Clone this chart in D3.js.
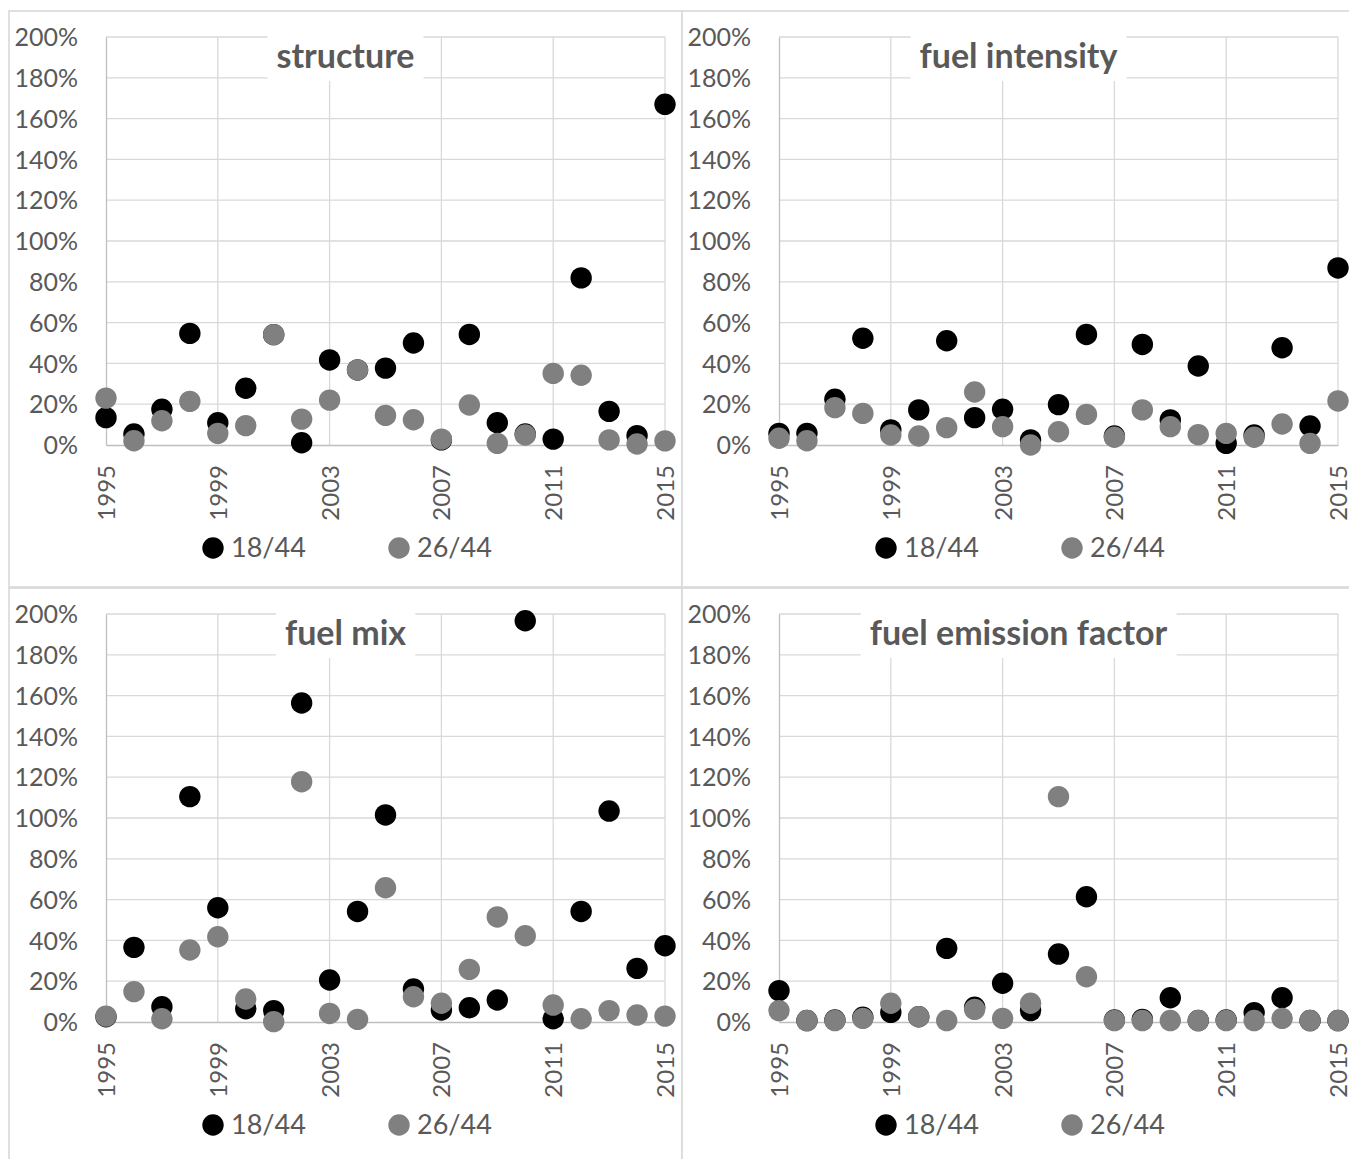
<!DOCTYPE html>
<html><head><meta charset="utf-8">
<script src="https://cdn.jsdelivr.net/npm/d3@7"></script>
<style>
body{margin:0;background:#fff;}
svg{display:block;}
text{font-family:Lato,"Open Sans",sans-serif;fill:#595959;}
</style>
</head><body>
<svg id="chart" width="1349" height="1159"></svg>
<script>
const years = [1995,1996,1997,1998,1999,2000,2001,2002,2003,2004,2005,2006,2007,2008,2009,2010,2011,2012,2013,2014,2015];
const xTickYears = [1995,1999,2003,2007,2011,2015];
const yTicks = [0,20,40,60,80,100,120,140,160,180,200];
const seriesNames = ["18/44","26/44"];
const seriesColors = ["#000000","#808080"];
const panelTitles = ["structure","fuel intensity","fuel mix","fuel emission factor"];

const structure18 = [13.4,5.4,17.5,54.7,10.9,27.8,54.1,1.1,41.7,36.8,37.7,50.0,2.5,54.2,10.9,5.4,2.9,81.9,16.5,4.6,167.0];
const structure26 = [23.0,2.1,11.9,21.4,5.7,9.5,54.1,12.7,22.0,36.8,14.5,12.4,2.9,19.6,0.8,4.9,35.1,34.2,2.5,0.5,2.0];
const intensity18 = [5.7,5.7,22.4,52.3,7.4,17.2,51.1,13.4,17.5,2.5,19.8,54.2,4.4,49.3,12.3,38.7,0.8,4.9,47.7,9.3,86.8];
const intensity26 = [3.3,2.1,18.3,15.5,4.9,4.4,8.5,26.0,9.0,0.0,6.5,15.0,3.8,17.2,9.0,5.1,5.7,3.8,10.3,0.8,21.6];
const mix18 = [2.6,36.6,7.5,110.5,56.0,6.5,5.6,156.4,20.6,54.2,101.5,16.2,5.9,7.0,10.8,196.7,1.6,54.2,103.4,26.3,37.4];
const mix26 = [2.9,14.9,1.6,35.3,41.8,11.3,0.2,117.8,4.2,1.3,65.8,12.4,9.2,25.8,51.5,42.3,8.3,1.6,5.6,3.4,2.9];
const emission18 = [15.4,0.7,1.0,2.3,4.7,2.6,36.1,7.2,19.0,5.6,33.3,61.4,1.0,1.3,11.9,0.7,1.0,4.6,11.9,0.7,0.7];
const emission26 = [5.6,0.7,0.7,1.8,9.2,2.6,0.7,6.2,1.8,9.2,110.5,22.2,0.7,0.7,0.7,0.7,0.7,0.7,1.8,0.7,0.7];

const panelSeries = [
  [structure18, structure26],
  [intensity18, intensity26],
  [mix18, mix26],
  [emission18, emission26]
];

const svg = d3.select("#chart");
const PW = 673, PH = 576;
const origins = [[9,11],[682,11],[9,588],[682,588]];
const plot = {left:97, right:656, top:26, bottom:434};
const R = 10.7;

panelTitles.forEach((title, i) => {
  const [ox, oy] = origins[i];
  const g = svg.append("g").attr("transform", `translate(${ox},${oy})`);
  g.append("rect").attr("x",0).attr("y",0).attr("width",PW).attr("height",PH)
    .attr("fill","#fff").attr("stroke","#d9d9d9").attr("stroke-width",1.6);

  const x = d3.scaleLinear().domain([1995,2015]).range([plot.left, plot.right]);
  const y = d3.scaleLinear().domain([0,200]).range([plot.bottom, plot.top]);

  // horizontal gridlines
  g.append("g").selectAll("line").data(yTicks.filter(d=>d>0)).join("line")
    .attr("x1", plot.left).attr("x2", plot.right)
    .attr("y1", d=>y(d)).attr("y2", d=>y(d))
    .attr("stroke","#d9d9d9").attr("stroke-width",1.3);
  // vertical gridlines
  g.append("g").selectAll("line").data(xTickYears.filter(d=>d>1995)).join("line")
    .attr("x1", d=>x(d)).attr("x2", d=>x(d))
    .attr("y1", plot.top).attr("y2", plot.bottom)
    .attr("stroke","#d9d9d9").attr("stroke-width",1.3);

  // title with white box
  const t = g.append("text").attr("x", PW/2).attr("y", 57)
    .attr("text-anchor","middle").attr("font-weight","700")
    .attr("font-size","34px").text(title);
  const bb = t.node().getBBox();
  g.insert("rect", "text").attr("x", bb.x-9).attr("y", plot.top-6)
    .attr("width", bb.width+18).attr("height", 70-(plot.top-6)).attr("fill","#fff");

  // y axis
  const ya = d3.axisLeft(y).tickValues(yTicks).tickFormat(d=>d+"%").tickSize(0).tickPadding(28);
  const yg = g.append("g").attr("transform",`translate(${plot.left},0)`).call(ya);
  yg.select(".domain").attr("stroke","#bfbfbf").attr("stroke-width",1.3);
  yg.selectAll("text").attr("font-size","25px").attr("fill","#595959")
    .attr("font-family","Lato,'Open Sans',sans-serif").attr("dy","0.35em");

  // x axis
  const xa = d3.axisBottom(x).tickValues(xTickYears).tickFormat(d3.format("d")).tickSize(0);
  const xg = g.append("g").attr("transform",`translate(0,${plot.bottom})`).call(xa);
  xg.select(".domain").attr("stroke","#bfbfbf").attr("stroke-width",1.3);
  xg.selectAll("text").attr("font-size","24px").attr("fill","#595959")
    .attr("font-family","Lato,'Open Sans',sans-serif")
    .attr("transform","rotate(-90)").attr("text-anchor","end")
    .attr("x",-20).attr("y",0).attr("dy","0.35em");

  // points
  panelSeries[i].forEach((vals, s) => {
    g.append("g").selectAll("circle").data(years.map((yr,k)=>({yr, v:vals[k]}))).join("circle")
      .attr("cx", d=>x(d.yr)).attr("cy", d=>y(d.v)).attr("r", R)
      .attr("fill", seriesColors[s]);
  });

  // legend
  const lg = g.append("g").attr("transform","translate(0,537)");
  const legX = [204, 390];
  seriesNames.forEach((nm, s) => {
    lg.append("circle").attr("cx", legX[s]).attr("cy", 0).attr("r", R).attr("fill", seriesColors[s]);
    lg.append("text").attr("x", legX[s]+18).attr("y", 0).attr("dy","0.35em")
      .attr("font-size","27px").text(nm);
  });
});
</script>
</body></html>
